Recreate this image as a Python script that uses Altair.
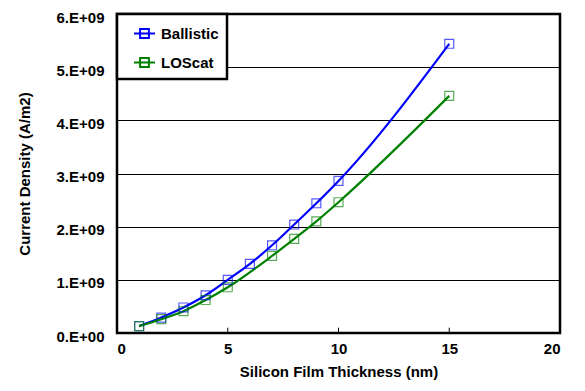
import altair as alt
import pandas as pd

ballistic_x = [1, 2, 3, 4, 5, 6, 7, 8, 9, 10, 15]
ballistic_y = [0.13e9, 0.29e9, 0.48e9, 0.71e9, 1.00e9, 1.30e9, 1.65e9, 2.04e9, 2.44e9, 2.86e9, 5.44e9]
loscat_x = [1, 2, 3, 4, 5, 7, 8, 9, 10, 15]
loscat_y = [0.13e9, 0.26e9, 0.41e9, 0.62e9, 0.86e9, 1.45e9, 1.77e9, 2.10e9, 2.46e9, 4.46e9]
series = ["Ballistic", "LOScat"]
colors = ["#0000FF", "#008000"]
x_ticks = [0, 5, 10, 15, 20]
y_ticks = [0, 1e9, 2e9, 3e9, 4e9, 5e9, 6e9]

df = pd.concat([
    pd.DataFrame({"x": ballistic_x, "y": ballistic_y, "s": series[0]}),
    pd.DataFrame({"x": loscat_x, "y": loscat_y, "s": series[1]}),
])
ticks_df = pd.DataFrame({"x": x_ticks[1:-1], "y": 0, "y2": 0.1e9})

FONT = "Liberation Sans"
xs = alt.Scale(domain=[0, 20], nice=False)
ys = alt.Scale(domain=[0, 6e9], nice=False)
col = alt.Color("s:N", scale=alt.Scale(domain=series, range=colors),
                legend=alt.Legend(title=None, orient="none", legendX=0, legendY=0))

x_enc = alt.X("x:Q", scale=xs, axis=alt.Axis(values=x_ticks, title="Silicon Film Thickness (nm)",
              grid=False, ticks=False, domain=False, labelPadding=8, titlePadding=8,
              labelFontSize=15, titleFontSize=15, labelFontWeight="bold", titleFontWeight="bold",
              labelFont=FONT, titleFont=FONT, labelColor="black", titleColor="black"))
y_enc = alt.Y("y:Q", scale=ys, axis=alt.Axis(values=y_ticks, title="Current Density (A/m2)",
              grid=True, gridColor="black", gridOpacity=1, gridWidth=1, ticks=False, domain=False,
              labelExpr="datum.value == 0 ? '0.E+00' : format(datum.value/1e9, 'd') + '.E+09'",
              labelPadding=13, titlePadding=24, labelFontSize=15, titleFontSize=15, labelOffset=3,
              labelFontWeight="bold", titleFontWeight="bold", labelFont=FONT, titleFont=FONT,
              labelColor="black", titleColor="black"))

lines = alt.Chart(df).mark_line(strokeWidth=2.2, interpolate="monotone").encode(
    x=x_enc, y=y_enc, color=col)
points = alt.Chart(df).mark_point(shape="square", size=80, filled=False, strokeWidth=1.2, opacity=0.65).encode(
    x="x:Q", y="y:Q", color=alt.Color("s:N", scale=alt.Scale(domain=series, range=colors), legend=None))
tk = alt.Chart(ticks_df).mark_rule(color="black", strokeWidth=1).encode(
    x=alt.X("x:Q", scale=xs), y=alt.Y("y:Q", scale=ys), y2="y2:Q")

chart = alt.layer(tk, lines, points).properties(
    width=443, height=319,
    padding={"left": 109, "top": 6, "right": 17, "bottom": 50},
    autosize=alt.AutoSizeParams(type="none"),
).configure_view(stroke="black", strokeWidth=2.5).configure_legend(
    strokeColor="black", strokeWidth=2.5, fillColor="white", padding=8,
    labelFont=FONT, labelFontSize=15, labelFontWeight="bold", labelColor="black",
    symbolType="M-1,0H1M-0.42,-0.42H0.42V0.42H-0.42Z", symbolSize=440, symbolOffset=8,
    symbolStrokeWidth=2, symbolFillColor="transparent", rowPadding=9, labelOffset=5,
    labelLimit=200,
)
chart.save("out.html", embed_options={"renderer": "svg", "actions": False})
